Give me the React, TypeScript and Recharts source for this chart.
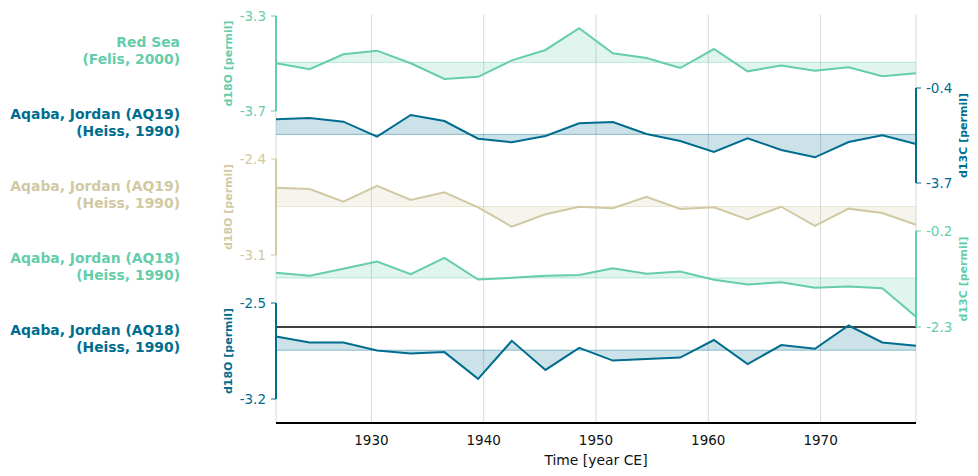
import React from 'react';
import { ComposedChart, Area, Line, XAxis, YAxis, CartesianGrid, ReferenceLine, Label } from 'recharts';

// sampling years (3-yr resolution)
const years = [
  1921.5, 1924.5, 1927.5, 1930.5, 1933.5, 1936.5, 1939.5, 1942.5, 1945.5, 1948.5,
  1951.5, 1954.5, 1957.5, 1960.5, 1963.5, 1966.5, 1969.5, 1972.5, 1975.5, 1978.5,
];
const yearTicks = [1930, 1940, 1950, 1960, 1970];

// Red Sea (Felis, 2000) d18O
const redSeaD18O = [
  -3.499, -3.524, -3.461, -3.446, -3.499, -3.565, -3.556, -3.487, -3.443, -3.351,
  -3.457, -3.477, -3.519, -3.439, -3.533, -3.508, -3.530, -3.516, -3.554, -3.541,
];
// Aqaba AQ19 d13C
const aq19D13C = [
  -1.487, -1.442, -1.571, -2.092, -1.338, -1.546, -2.161, -2.286, -2.068, -1.626,
  -1.581, -1.998, -2.241, -2.623, -2.147, -2.554, -2.807, -2.276, -2.043, -2.345,
];
// Aqaba AQ19 d18O
const aq19D18O = [
  -2.609, -2.619, -2.711, -2.595, -2.699, -2.643, -2.752, -2.894, -2.803, -2.748,
  -2.759, -2.675, -2.765, -2.752, -2.840, -2.748, -2.888, -2.762, -2.794, -2.879,
];
// Aqaba AQ18 d13C
const aq18D13C = [
  -1.115, -1.180, -1.027, -0.867, -1.145, -0.786, -1.261, -1.224, -1.180, -1.163,
  -1.014, -1.136, -1.086, -1.268, -1.371, -1.320, -1.443, -1.414, -1.452, -2.077,
];
// Aqaba AQ18 d18O
const aq18D18O = [
  -2.744, -2.788, -2.788, -2.847, -2.868, -2.858, -3.053, -2.776, -2.988, -2.827,
  -2.920, -2.909, -2.898, -2.770, -2.946, -2.807, -2.834, -2.664, -2.788, -2.812,
];

const AQUA = '#66CDAA';
const TEAL = '#006D8F';
const TAN = '#D1C9A3';
const FONT = '"DejaVu Sans", sans-serif';

const W = 978;
const H = 476;
const PLOT_LEFT = 276;
const PLOT_RIGHT = 62; // 978 - 916
const X_DOMAIN: [number, number] = [1921.5, 1978.5];

type PanelCfg = {
  name: string[];
  values: number[];
  color: string;
  axisLabel: string;
  side: 'left' | 'right';
  range: [number, number];
  top: number;
  bottom: number;
  baseRule?: boolean;
};

const panels: PanelCfg[] = [
  { name: ['Red Sea', '(Felis, 2000)'], values: redSeaD18O, color: AQUA, axisLabel: 'd18O [permil]', side: 'left', range: [-3.7, -3.3], top: 16, bottom: 111 },
  { name: ['Aqaba, Jordan (AQ19)', '(Heiss, 1990)'], values: aq19D13C, color: TEAL, axisLabel: 'd13C [permil]', side: 'right', range: [-3.7, -0.4], top: 88, bottom: 183 },
  { name: ['Aqaba, Jordan (AQ19)', '(Heiss, 1990)'], values: aq19D18O, color: TAN, axisLabel: 'd18O [permil]', side: 'left', range: [-3.1, -2.4], top: 159, bottom: 255 },
  { name: ['Aqaba, Jordan (AQ18)', '(Heiss, 1990)'], values: aq18D13C, color: AQUA, axisLabel: 'd13C [permil]', side: 'right', range: [-2.3, -0.2], top: 231, bottom: 327, baseRule: true },
  { name: ['Aqaba, Jordan (AQ18)', '(Heiss, 1990)'], values: aq18D18O, color: TEAL, axisLabel: 'd18O [permil]', side: 'left', range: [-3.2, -2.5], top: 303, bottom: 399 },
];

const AXIS_W = 50;
const PAD = 12;

const Panel: React.FC<{ p: PanelCfg }> = ({ p }) => {
  const mean = p.values.reduce((s, v) => s + v, 0) / p.values.length;
  const rows = years.map((yr, i) => ({ year: yr, v: p.values[i] }));
  const left = p.side === 'left';

  const renderAxisLabel = (props: any) => {
    const vb = props.viewBox || {};
    const cy = (vb.y ?? p.top) + (vb.height ?? p.bottom - p.top) / 2;
    const cx = left ? PLOT_LEFT - 48 : W - PLOT_RIGHT + 47;
    return (
      <text
        x={cx}
        y={cy}
        transform={`rotate(-90, ${cx}, ${cy})`}
        textAnchor="middle"
        dominantBaseline="central"
        fill={p.color}
        fontFamily={FONT}
        fontSize={11}
        fontWeight="bold"
      >
        {p.axisLabel}
      </text>
    );
  };

  return (
    <div style={{ position: 'absolute', left: 0, top: p.top - PAD }}>
      <ComposedChart
        width={W}
        height={p.bottom - p.top + 2 * PAD}
        data={rows}
        margin={{
          top: PAD,
          bottom: PAD,
          left: left ? PLOT_LEFT - AXIS_W : PLOT_LEFT,
          right: left ? PLOT_RIGHT : PLOT_RIGHT - AXIS_W,
        }}
      >
        <XAxis type="number" dataKey="year" domain={X_DOMAIN} hide />
        <YAxis
          orientation={p.side}
          width={AXIS_W}
          domain={p.range}
          ticks={p.range}
          interval={0}
          allowDataOverflow
          tickFormatter={(v: number) => v.toFixed(1)}
          axisLine={{ stroke: p.color, strokeWidth: 2 }}
          tickLine={{ stroke: p.color, strokeWidth: 1 }}
          tickSize={5}
          tickMargin={5}
          tick={{ fill: p.color, fontSize: 13.5, fontFamily: FONT }}
        >
          <Label content={renderAxisLabel} />
        </YAxis>
        {p.baseRule && <ReferenceLine y={p.range[0]} stroke="#000" strokeWidth={1.5} />}
        <ReferenceLine y={mean} stroke={p.color} strokeOpacity={0.4} strokeWidth={1} />
        <Area
          type="linear"
          dataKey="v"
          baseValue={mean}
          stroke="none"
          fill={p.color}
          fillOpacity={0.2}
          isAnimationActive={false}
          activeDot={false}
        />
        <Line
          type="linear"
          dataKey="v"
          stroke={p.color}
          strokeWidth={2}
          dot={false}
          activeDot={false}
          isAnimationActive={false}
        />
      </ComposedChart>
    </div>
  );
};

export default function App() {
  const bgRows = years.map((yr) => ({ year: yr, v: 0 }));
  return (
    <div
      style={{
        position: 'absolute',
        left: 0,
        top: 0,
        width: W,
        height: H,
        background: '#fff',
        fontFamily: FONT,
        overflow: 'hidden',
      }}
    >
      {/* grid + time axis behind everything */}
      <div style={{ position: 'absolute', left: 0, top: 0 }}>
        <ComposedChart width={W} height={H} data={bgRows} margin={{ top: 15, right: PLOT_RIGHT, bottom: 11, left: PLOT_LEFT }}>
          <CartesianGrid vertical horizontal={false} stroke="#d9d9d9" strokeWidth={1} />
          <XAxis
            type="number"
            dataKey="year"
            domain={X_DOMAIN}
            ticks={yearTicks}
            interval={0}
            height={42}
            tickLine={false}
            tickSize={6}
            tickMargin={6}
            axisLine={{ stroke: '#000', strokeWidth: 2 }}
            tick={{ fill: '#111', fontSize: 13.5, fontFamily: FONT }}
            label={{ value: 'Time [year CE]', position: 'insideBottom', offset: 0, fill: '#111', fontSize: 13.9, fontFamily: FONT }}
          />
          <YAxis hide domain={[0, 1]} />
          <Line dataKey="v" stroke="none" dot={false} activeDot={false} isAnimationActive={false} />
        </ComposedChart>
      </div>

      {panels.map((p, i) => (
        <Panel key={i} p={p} />
      ))}

      {/* series names */}
      {panels.map((p, i) => (
        <div
          key={`name-${i}`}
          style={{
            position: 'absolute',
            right: W - 180,
            top: 34 + i * 72,
            textAlign: 'right',
            whiteSpace: 'nowrap',
            color: p.color,
            fontWeight: 'bold',
            fontSize: 13.9,
            lineHeight: '16.5px',
          }}
        >
          {p.name.map((t, j) => (
            <div key={j}>{t}</div>
          ))}
        </div>
      ))}
    </div>
  );
}
